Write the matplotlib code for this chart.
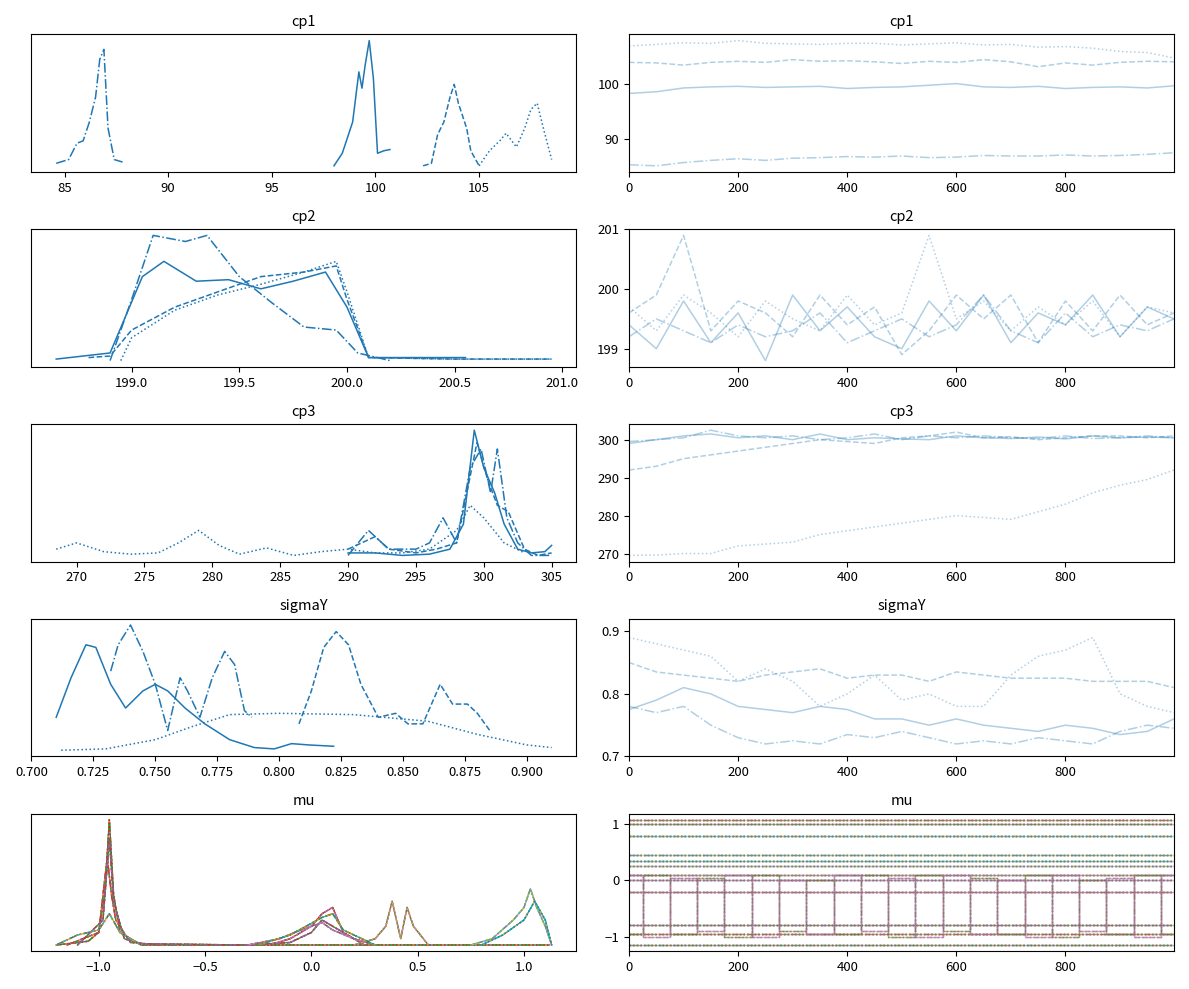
import matplotlib
matplotlib.use("Agg")
import matplotlib.pyplot as plt
import numpy as np

plt.rcParams['font.family'] = ['Noto Sans CJK JP', 'DejaVu Sans']
plt.rcParams['xtick.labelsize'] = 9.5
plt.rcParams['ytick.labelsize'] = 9.5

STYLES = ['-', '--', '-.', ':']
it = [0, 50, 100, 150, 200, 250, 300, 350, 400, 450, 500, 550, 600, 650, 700, 750, 800, 850, 900, 950, 999]

# ---- KDE keypoints (x list, y list) per chain ----
cp1_kde = [
    ([98.0, 98.4, 98.9, 99.2, 99.35, 99.5, 99.7, 99.9, 100.1, 100.4, 100.7], [0.0, 0.1, 0.35, 0.75, 0.62, 0.8, 1.0, 0.7, 0.1, 0.12, 0.13]),
    ([102.3, 102.7, 103.0, 103.3, 103.6, 103.8, 104.0, 104.2, 104.4, 104.6, 105.0], [0.0, 0.02, 0.25, 0.35, 0.55, 0.65, 0.5, 0.4, 0.3, 0.12, 0.0]),
    ([84.6, 85.2, 85.6, 85.9, 86.2, 86.5, 86.7, 86.9, 87.1, 87.4, 87.8], [0.02, 0.05, 0.18, 0.2, 0.35, 0.55, 0.85, 0.93, 0.3, 0.05, 0.03]),
    ([105.0, 105.5, 106.0, 106.3, 106.8, 107.2, 107.5, 107.8, 108.1, 108.5], [0.0, 0.12, 0.2, 0.26, 0.15, 0.3, 0.45, 0.5, 0.3, 0.05]),
]
cp2_kde = [
    ([198.65, 198.9, 199.05, 199.15, 199.3, 199.45, 199.6, 199.75, 199.9, 200.0, 200.1, 200.3, 200.55], [0.01, 0.05, 0.55, 0.65, 0.52, 0.53, 0.47, 0.52, 0.58, 0.35, 0.02, 0.02, 0.02]),
    ([198.8, 198.9, 199.0, 199.2, 199.4, 199.6, 199.8, 199.95, 200.0, 200.1, 200.5, 200.95], [0.02, 0.03, 0.2, 0.35, 0.45, 0.55, 0.58, 0.62, 0.4, 0.02, 0.01, 0.01]),
    ([198.9, 199.0, 199.1, 199.25, 199.35, 199.5, 199.65, 199.8, 199.95, 200.05, 200.2], [0.0, 0.4, 0.82, 0.78, 0.82, 0.55, 0.38, 0.22, 0.2, 0.05, 0.0]),
    ([198.95, 199.0, 199.2, 199.4, 199.6, 199.8, 199.95, 200.0, 200.1, 200.5, 200.95], [0.0, 0.15, 0.33, 0.43, 0.5, 0.58, 0.65, 0.45, 0.02, 0.01, 0.01]),
]
cp3_kde = [
    ([290.0, 292.0, 294.0, 296.0, 297.5, 298.5, 299.3, 300.0, 300.8, 301.5, 302.5, 303.5, 304.5, 305.0], [0.02, 0.02, 0.0, 0.01, 0.05, 0.25, 1.0, 0.7, 0.5, 0.25, 0.05, 0.02, 0.03, 0.08]),
    ([290.0, 291.0, 292.0, 293.0, 295.0, 296.5, 298.0, 299.5, 300.3, 301.0, 301.8, 303.0, 304.0, 305.0], [0.05, 0.1, 0.15, 0.05, 0.02, 0.05, 0.1, 0.9, 0.6, 0.4, 0.35, 0.05, 0.0, 0.02]),
    ([290.0, 291.5, 293.0, 295.0, 296.0, 297.0, 298.0, 299.0, 299.8, 300.5, 301.0, 301.7, 302.5, 303.5, 305.0], [0.0, 0.2, 0.05, 0.05, 0.1, 0.3, 0.1, 0.7, 0.85, 0.5, 0.85, 0.3, 0.1, 0.0, 0.0]),
    ([268.5, 270.0, 272.0, 274.0, 276.0, 277.5, 279.0, 280.5, 282.0, 284.0, 286.0, 288.0, 290.0, 292.0, 294.0, 296.0, 298.0, 299.0, 300.0, 301.5, 303.0], [0.05, 0.1, 0.03, 0.01, 0.02, 0.1, 0.2, 0.08, 0.01, 0.06, 0.0, 0.03, 0.05, 0.02, 0.02, 0.05, 0.2, 0.4, 0.3, 0.1, 0.02]),
]
sig_kde = [
    ([0.710, 0.716, 0.722, 0.726, 0.732, 0.738, 0.745, 0.750, 0.755, 0.762, 0.770, 0.780, 0.790, 0.798, 0.805, 0.812, 0.822], [0.25, 0.55, 0.8, 0.78, 0.5, 0.32, 0.45, 0.5, 0.45, 0.32, 0.2, 0.08, 0.02, 0.01, 0.05, 0.04, 0.03]),
    ([0.808, 0.813, 0.818, 0.823, 0.828, 0.833, 0.840, 0.847, 0.852, 0.858, 0.865, 0.870, 0.876, 0.880, 0.885], [0.2, 0.45, 0.78, 0.9, 0.8, 0.5, 0.25, 0.28, 0.2, 0.2, 0.5, 0.35, 0.35, 0.28, 0.15]),
    ([0.732, 0.735, 0.740, 0.745, 0.750, 0.755, 0.760, 0.763, 0.768, 0.773, 0.778, 0.782, 0.786, 0.789], [0.6, 0.8, 0.95, 0.75, 0.5, 0.15, 0.55, 0.45, 0.25, 0.55, 0.75, 0.65, 0.3, 0.25]),
    ([0.712, 0.730, 0.750, 0.765, 0.780, 0.800, 0.830, 0.860, 0.880, 0.900, 0.910], [0.0, 0.01, 0.08, 0.18, 0.27, 0.28, 0.27, 0.22, 0.12, 0.04, 0.02]),
]

# ---- trace keypoints (values at iterations `it`) per chain ----
cp1_tr = [
    [98.3, 98.6, 99.3, 99.5, 99.6, 99.4, 99.5, 99.6, 99.2, 99.4, 99.5, 99.8, 100.1, 99.5, 99.4, 99.6, 99.2, 99.4, 99.5, 99.3, 99.7],
    [104.0, 103.9, 103.5, 104.0, 104.2, 104.0, 104.5, 104.2, 104.3, 104.1, 103.8, 104.2, 104.0, 104.5, 104.1, 103.2, 103.9, 103.5, 104.0, 104.2, 104.1],
    [85.2, 85.0, 85.6, 86.0, 86.3, 86.0, 86.4, 86.5, 86.7, 86.6, 86.8, 86.5, 86.6, 86.9, 86.8, 86.8, 87.0, 86.8, 86.9, 87.1, 87.4],
    [107.0, 107.3, 107.6, 107.5, 108.0, 107.5, 107.4, 107.3, 107.5, 107.5, 107.2, 107.4, 107.6, 107.2, 107.3, 106.8, 106.9, 106.6, 106.0, 105.8, 104.8],
]
cp2_tr = [
    [199.4, 199.0, 199.8, 199.1, 199.6, 198.8, 199.9, 199.3, 199.7, 199.2, 199.0, 199.8, 199.3, 199.9, 199.1, 199.6, 199.4, 199.9, 199.2, 199.7, 199.5],
    [199.6, 199.9, 200.9, 199.3, 199.8, 199.6, 199.2, 199.9, 199.4, 199.7, 198.9, 199.3, 199.9, 199.5, 199.9, 199.1, 199.8, 199.3, 199.9, 199.4, 199.6],
    [199.2, 199.5, 199.3, 199.1, 199.4, 199.2, 199.3, 199.6, 199.1, 199.3, 199.5, 199.2, 199.4, 199.9, 199.3, 199.1, 199.6, 199.2, 199.4, 199.3, 199.5],
    [199.7, 199.3, 199.9, 199.6, 199.2, 199.8, 199.5, 199.3, 199.9, 199.4, 199.6, 200.9, 199.5, 199.8, 199.3, 199.7, 199.4, 199.8, 199.2, 199.7, 199.6],
]
cp3_tr = [
    [299.0, 300.0, 301.0, 301.5, 300.5, 301.0, 300.0, 301.5, 300.0, 300.5, 300.2, 300.0, 301.0, 300.5, 300.3, 300.7, 300.2, 301.0, 300.5, 300.7, 300.5],
    [292.0, 293.0, 295.0, 296.0, 297.0, 298.0, 299.0, 300.0, 299.5, 299.0, 300.5, 301.0, 302.0, 300.5, 300.8, 300.0, 300.5, 301.0, 301.0, 300.5, 301.0],
    [299.5, 300.0, 300.5, 302.5, 301.0, 300.5, 301.0, 300.0, 300.5, 301.5, 300.0, 301.0, 300.5, 301.0, 300.5, 300.3, 301.0, 300.3, 300.5, 301.0, 300.5],
    [269.5, 269.6, 270.0, 270.0, 272.0, 272.5, 273.0, 275.0, 276.0, 277.0, 278.0, 279.0, 280.0, 279.5, 279.0, 281.0, 283.0, 286.0, 288.0, 289.5, 292.0],
]
sig_tr = [
    [0.775, 0.79, 0.81, 0.80, 0.78, 0.775, 0.77, 0.78, 0.775, 0.76, 0.76, 0.75, 0.76, 0.75, 0.745, 0.74, 0.75, 0.745, 0.735, 0.74, 0.76],
    [0.85, 0.835, 0.83, 0.825, 0.82, 0.83, 0.835, 0.84, 0.825, 0.83, 0.83, 0.82, 0.835, 0.83, 0.825, 0.825, 0.825, 0.82, 0.82, 0.82, 0.81],
    [0.78, 0.77, 0.78, 0.75, 0.73, 0.72, 0.725, 0.72, 0.735, 0.73, 0.74, 0.73, 0.72, 0.725, 0.72, 0.73, 0.725, 0.72, 0.74, 0.75, 0.745],
    [0.89, 0.88, 0.87, 0.86, 0.82, 0.84, 0.82, 0.78, 0.80, 0.83, 0.79, 0.80, 0.78, 0.78, 0.83, 0.86, 0.87, 0.89, 0.80, 0.78, 0.77],
]

# ---- mu components: KDE keypoints and trace levels ----
mu_kde = [
    ([-1.2, -1.05, -1.0, -0.97, -0.95, -0.93, -0.9, -0.8, 1.12], [0.0, 0.03, 0.1, 0.45, 1.0, 0.4, 0.1, 0.0, 0.0]),
    ([-1.15, -1.0, -0.96, -0.94, -0.92, -0.85, -0.7], [0.0, 0.1, 0.7, 0.4, 0.2, 0.02, 0.0]),
    ([-1.1, -0.98, -0.95, -0.93, -0.88, -0.8, -0.3, -0.1, 0.0, 0.05, 0.1, 0.2, 0.3], [0.0, 0.2, 0.85, 0.35, 0.05, 0.01, 0.0, 0.02, 0.1, 0.2, 0.15, 0.05, 0.0]),
    ([-0.2, -0.1, 0.0, 0.05, 0.1, 0.15, 0.25], [0.0, 0.05, 0.15, 0.25, 0.3, 0.1, 0.0]),
    ([-0.3, -0.15, -0.05, 0.05, 0.1, 0.2, 0.3], [0.0, 0.05, 0.12, 0.18, 0.12, 0.05, 0.0]),
    ([0.2, 0.3, 0.35, 0.38, 0.42, 0.45, 0.48, 0.55], [0.0, 0.05, 0.15, 0.35, 0.05, 0.3, 0.15, 0.0]),
    ([0.75, 0.85, 0.95, 1.0, 1.03, 1.06, 1.1, 1.13], [0.0, 0.05, 0.2, 0.3, 0.45, 0.3, 0.15, 0.0]),
    ([0.8, 0.9, 1.0, 1.05, 1.1, 1.13], [0.0, 0.08, 0.2, 0.35, 0.2, 0.0]),
    ([-1.2, -1.1, -1.0, -0.95, -0.9, -0.8], [0.0, 0.08, 0.12, 0.25, 0.1, 0.0]),
    ([-0.25, -0.1, 0.05, 0.1, 0.15, 0.3], [0.0, 0.08, 0.22, 0.25, 0.12, 0.0]),
]
mu_levels = [-1.15, -0.95, -0.8, -0.2, 0.0, 0.1, 0.25, 0.35, 0.45, 0.8, 1.0, 1.08]
mu_jump = [
    [-0.95, 0.1, -0.95, 0.05, -1.0, 0.1, -0.9, 0.0, -0.95, 0.1, -1.0, 0.1, -0.9, 0.05, -0.95, 0.1, -1.0, 0.0, -0.95, 0.1, -0.95],
    [0.1, -1.0, 0.05, -0.9, 0.1, -1.0, 0.0, -0.95, 0.1, -0.9, 0.05, -1.0, 0.1, -0.95, 0.0, -1.0, 0.1, -0.9, 0.05, -1.0, 0.1],
]

fig, axes = plt.subplots(5, 2, figsize=(11.89, 9.89), dpi=100)
names = ['cp1', 'cp2', 'cp3', 'sigmaY', 'mu']
kdes = [cp1_kde, cp2_kde, cp3_kde, sig_kde]
trs = [cp1_tr, cp2_tr, cp3_tr, sig_tr]

for r in range(4):
    axl, axr = axes[r]
    for c, (xs, ys) in enumerate(kdes[r]):
        axl.plot(xs, ys, color='C0', ls=STYLES[c], lw=1.1)
    for c, vals in enumerate(trs[r]):
        axr.plot(it, vals, color='C0', ls=STYLES[c], lw=1.1, alpha=0.35)

axl, axr = axes[4]
for k, (xs, ys) in enumerate(mu_kde):
    for c in range(4):
        axl.plot(xs, ys, color=f'C{(k + c) % 10}', ls=STYLES[c], lw=1.0)
for k, lev in enumerate(mu_levels):
    for c in range(4):
        axr.plot(it, [lev] * len(it), color=f'C{(k + c) % 10}', ls=STYLES[c], lw=1.0, alpha=0.5)
        axr.plot(it, [lev] * len(it), color='gray', ls=':', lw=1.0, alpha=0.6)
for k, vals in enumerate(mu_jump):
    for c in range(4):
        axr.step(it, vals, where='mid', color=f'C{(k * 4 + c) % 10}', ls=STYLES[c], lw=1.0, alpha=0.4)
axr.set_yticks([-1, 0, 1])

for r in range(5):
    axes[r, 0].set_title(names[r], fontsize=10.5)
    axes[r, 1].set_title(names[r], fontsize=10.5)
    axes[r, 0].set_yticks([])
    axes[r, 1].set_xlim(0, 999)
    axes[r, 1].set_xticks([0, 200, 400, 600, 800])
axes[1, 1].set_yticks([199, 200, 201])
axes[1, 1].set_yticklabels(['199', '200', '201'])
axes[3, 1].set_yticks([0.7, 0.8, 0.9])
axes[3, 1].set_ylim(0.7, 0.92)
axes[3, 0].set_xticks([0.700, 0.725, 0.750, 0.775, 0.800, 0.825, 0.850, 0.875, 0.900])
axes[4, 0].set_xticks([-1.0, -0.5, 0.0, 0.5, 1.0])

fig.tight_layout()
fig.savefig('out.png', dpi=100)
